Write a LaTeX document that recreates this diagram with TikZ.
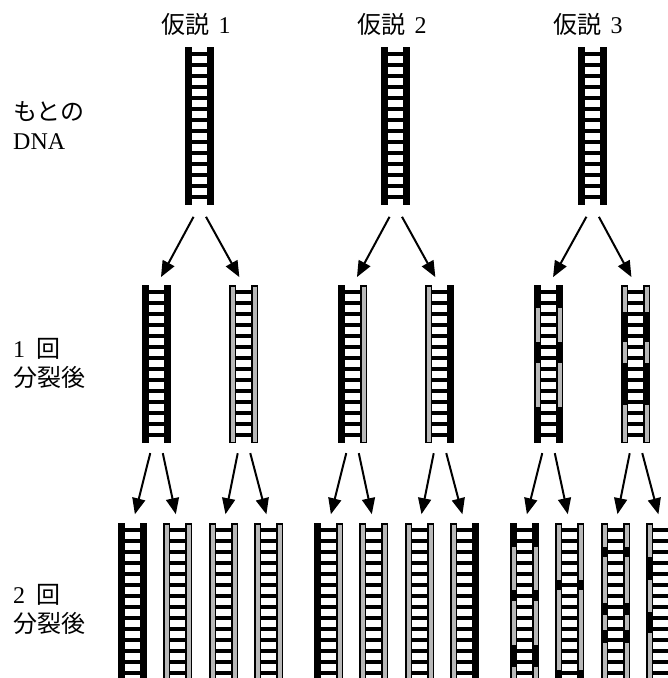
\documentclass[tikz,border=0pt]{standalone}
\usepackage{fontspec}
\setmainfont{Liberation Serif}
\newfontfamily\jp{Noto Sans CJK JP}
\usetikzlibrary{arrows.meta}
\tikzset{
  >={Triangle[length=16pt,width=13pt]},
  arr/.style={->,line width=2pt,shorten <=10pt,shorten >=9pt},
  strandg/.style={fill=black!28,draw=black,line width=1.5pt},
  dnabox/.style={inner sep=0pt,minimum width=29pt,minimum height=158pt,anchor=north west},
  lbl/.style={font=\fontsize{24}{29}\selectfont,inner sep=0pt},
}
% one strand: x, top, black pieces (from/to, measured down from the top)
\newcommand\strand[3]{%
  \filldraw[strandg] (#1+0.75,#2+0.75) rectangle (#1+6.25,#2+157.25);
  \foreach \p/\q in {#3} \fill (#1,#2+\p) rectangle (#1+7,#2+\q);
}
% double helix as a ladder: name, x, top, left strand, right strand
\newcommand\dna[5]{%
  \node[dnabox] (#1) at (#2,#3) {};
  \strand{#2}{#3}{#4}
  \strand{#2+22}{#3}{#5}
  \foreach \k in {0,...,13} \fill (#2+7,#3+5.3+11*\k) rectangle ++(15,3.4);
}

\begin{document}
\begin{tikzpicture}[x=1pt,y=-1pt]
  \clip (0,0) rectangle (668,678);
  % --- row labels ---
  \node[lbl,anchor=west,align=left] (orig) at (13,126) {{\jp もとの}\\DNA};
  \node[lbl,anchor=west,align=left] (gen1) at (13,363) {1\hspace{11pt}{\jp 回}\\{\jp 分裂後}};
  \node[lbl,anchor=west,align=left] (gen2) at (13,609) {2\hspace{11pt}{\jp 回}\\{\jp 分裂後}};
  % --- hypothesis titles ---
  \node[lbl] (t1) at (196,24) {{\jp 仮説}\hspace{9pt}1};
  \node[lbl] (t2) at (392,24) {{\jp 仮説}\hspace{9pt}2};
  \node[lbl] (t3) at (588,24) {{\jp 仮説}\hspace{9pt}3};
  % --- hypothesis 1 ---
  \dna{h1top}{185}{47}{0/158}{0/158}
  \dna{h1a}{142}{285}{0/158}{0/158}
  \dna{h1b}{229}{285}{0/0}{0/0}
  \dna{h1p}{118}{523}{0/158}{0/158}
  \dna{h1q}{163}{523}{0/0}{0/0}
  \dna{h1r}{209}{523}{0/0}{0/0}
  \dna{h1s}{254}{523}{0/0}{0/0}
  % --- hypothesis 2 ---
  \dna{h2top}{381}{47}{0/158}{0/158}
  \dna{h2a}{338}{285}{0/158}{0/0}
  \dna{h2b}{425}{285}{0/0}{0/158}
  \dna{h2p}{314}{523}{0/158}{0/0}
  \dna{h2q}{359}{523}{0/0}{0/0}
  \dna{h2r}{405}{523}{0/0}{0/0}
  \dna{h2s}{450}{523}{0/0}{0/158}
  % --- hypothesis 3 ---
  \dna{h3top}{578}{47}{0/158}{0/158}
  \dna{h3a}{534}{285}{0/23,57/78,122/158}{0/23,57/78,122/158}
  \dna{h3b}{621}{285}{27/57,78/120}{27/57,78/120}
  \dna{h3p}{510}{523}{0/24,67/78,122/144}{0/24,67/78,122/144}
  \dna{h3q}{555}{523}{57/67,147/158}{57/67,147/158}
  \dna{h3r}{601}{523}{24/34,80/92,107/120}{24/34,80/92,107/120}
  \dna{h3s}{646}{523}{34/57,89/110}{34/57,89/110}
  % --- replication arrows ---
  \foreach \h in {1,2,3}{
    \draw[arr,shorten <=13pt] (h\h top.south) -- (h\h a.north);
    \draw[arr,shorten <=13pt] (h\h top.south) -- (h\h b.north);
    \draw[arr] ([xshift=-4pt]h\h a.south) -- (h\h p.north);
    \draw[arr] ([xshift=4pt]h\h a.south)  -- (h\h q.north);
    \draw[arr] ([xshift=-4pt]h\h b.south) -- (h\h r.north);
    \draw[arr] ([xshift=4pt]h\h b.south)  -- (h\h s.north);
  }
\end{tikzpicture}
\end{document}
